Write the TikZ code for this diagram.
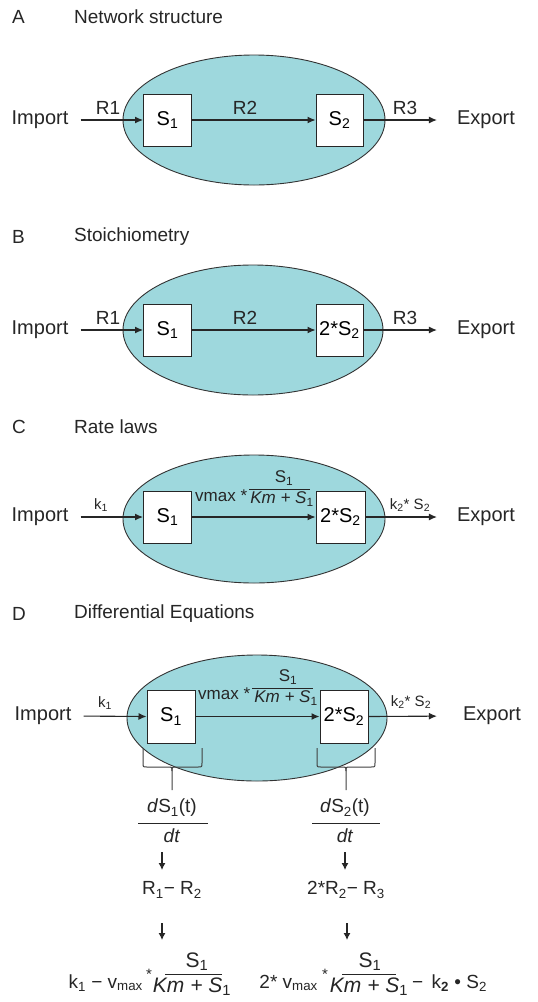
\documentclass[tikz,border=0pt]{standalone}
\usepackage{fontspec}
\setmainfont{Liberation Sans}
\usetikzlibrary{arrows.meta,shapes.geometric}
\definecolor{cellc}{RGB}{158,216,221}
\newcommand\sbs[1]{\textsubscript{#1}}
\begin{document}
\begin{tikzpicture}[x=1pt,y=-1pt,
  ttl/.style={inner sep=0pt,font=\fontsize{19}{22}\selectfont,text=black!85},
  txt/.style={inner sep=0pt,font=\fontsize{20}{24}\selectfont,text=black!85},
  lbl/.style={inner sep=0pt,font=\fontsize{19}{22}\selectfont,text=black!85},
  small/.style={inner sep=0pt,font=\fontsize{15}{18}\selectfont,text=black!85},
  frt/.style={inner sep=0pt,font=\fontsize{17}{20}\selectfont,text=black!85},
  big/.style={inner sep=0pt,font=\fontsize{21}{25}\selectfont,text=black!85},
  cell/.style={ellipse,draw=black!80,line width=0.9pt,fill=cellc,inner sep=0pt},
  sbox/.style={rectangle,draw=black!85,line width=1pt,fill=white,inner sep=0pt,
    minimum width=48pt,minimum height=52pt,font=\fontsize{20}{24}\selectfont},
  arr/.style={draw=black!85,line width=1.1pt,-{Latex[length=8pt,width=7pt]}},
  varr/.style={draw=black!85,line width=1.1pt,-{Latex[length=7pt,width=7pt]}},
  frl/.style={draw=black!85,line width=0.9pt},
  brc/.style={draw=black!75,line width=1pt}]
\useasboundingbox[fill=white] (0,0) rectangle (538,1002);

% ---------- A ----------
\node[ttl,anchor=west] (tA) at (12,17) {A};
\node[ttl,anchor=west] (tA2) at (74,17) {Network structure};
\node[cell,minimum width=262pt,minimum height=130pt] (eA) at (254,120) {};
\node[sbox] (a1) at (167.5,120) {S\sbs{1}};
\node[sbox,minimum width=47pt] (a2) at (339.5,120) {S\sbs{2}};
\node[txt] (aI) at (40,120) {Import};
\node[txt] (aE) at (486,120) {Export};
\draw[arr,shorten <=12pt] (aI.east) -- (a1.west);
\draw[arr] (a1.east) -- (a2.west);
\draw[arr,shorten >=20pt] (a2.east) -- (aE.west);
\node[lbl] (aR1) at (108,108) {R1};
\node[lbl] (aR2) at (245,108) {R2};
\node[lbl] (aR3) at (405,108) {R3};

% ---------- B ----------
\node[ttl,anchor=west] (tB) at (12,237) {B};
\node[ttl,anchor=west] (tB2) at (74,237) {Stoichiometry};
\node[cell,minimum width=260pt,minimum height=130pt] (eB) at (253,330) {};
\node[sbox] (b1) at (167.5,330) {S\sbs{1}};
\node[sbox,minimum width=47pt] (b2) at (339.5,330) {2*S\sbs{2}};
\node[txt] (bI) at (40,330) {Import};
\node[txt] (bE) at (486,330) {Export};
\draw[arr,shorten <=12pt] (bI.east) -- (b1.west);
\draw[arr] (b1.east) -- (b2.west);
\draw[arr,shorten >=20pt] (b2.east) -- (bE.west);
\node[lbl] (bR1) at (108,318) {R1};
\node[lbl] (bR2) at (245,318) {R2};
\node[lbl] (bR3) at (405,318) {R3};

% ---------- C ----------
\node[ttl,anchor=west] (tC) at (12,427) {C};
\node[ttl,anchor=west] (tC2) at (74,427) {Rate laws};
\node[cell,minimum width=262pt,minimum height=128pt] (eC) at (254,519) {};
\node[sbox] (c1) at (167.5,517) {S\sbs{1}};
\node[sbox,minimum width=49pt] (c2) at (340.5,517) {2*S\sbs{2}};
\node[txt] (cI) at (40,517) {Import};
\node[txt] (cE) at (486,517) {Export};
\draw[arr,shorten <=12pt] (cI.east) -- (c1.west);
\draw[arr] (c1.east) -- (c2.west);
\draw[arr,shorten >=20pt] (c2.east) -- (cE.west);
\node[small] (ck1) at (101,505) {k\sbs{1}};
\node[frt,anchor=west] (cv) at (195,496) {vmax *};
\node[frt] (cN) at (284,478) {S\sbs{1}};
\draw[frl] (249,489) -- (310,489);
\node[frt] (cD) at (282,499) {\textit{Km + S}\sbs{1}};
\node[small] (ck2) at (410,505) {k\sbs{2}* S\sbs{2}};

% ---------- D ----------
\node[ttl,anchor=west] (tD) at (12,614) {D};
\node[ttl,anchor=west] (tD2) at (74,614) {Differential Equations};
\node[cell,minimum width=260pt,minimum height=126pt] (eD) at (257,718) {};
\node[sbox,minimum height=53pt] (d1) at (171,716.5) {S\sbs{1}};
\node[sbox,minimum height=53pt] (d2) at (344,716.5) {2*S\sbs{2}};
\node[txt] (dI) at (43,716) {Import};
\node[txt] (dE) at (492,716) {Export};
\draw[arr,shorten <=12pt] (dI.east) -- (d1.west);
\draw[arr] (d1.east) -- (d2.west);
\draw[arr,shorten >=26pt] (d2.east) -- (dE.west);
\node[small] (dk1) at (105,703) {k\sbs{1}};
\node[frt,anchor=west] (dv) at (198,694) {vmax *};
\node[frt] (dN) at (288,677) {S\sbs{1}};
\draw[frl] (252,688) -- (313,688);
\node[frt] (dD) at (286,698) {\textit{Km + S}\sbs{1}};
\node[small] (dk2) at (411,702) {k\sbs{2}* S\sbs{2}};

% braces
\draw[brc] (143,748) -- (143,763) .. controls (143,767) .. (147,767) -- (168,767)
  .. controls (172,767) .. (172,771) -- (172,790);
\draw[brc] (202,748) -- (202,763) .. controls (202,767) .. (198,767) -- (176,767)
  .. controls (172,767) .. (172,771);
\draw[brc] (317,748) -- (317,763) .. controls (317,767) .. (321,767) -- (342,767)
  .. controls (346,767) .. (346,771) -- (346,790);
\draw[brc] (375,748) -- (375,763) .. controls (375,767) .. (371,767) -- (350,767)
  .. controls (346,767) .. (346,771);

% derivative fractions
\node[lbl] (n1) at (172,808) {\textit{d}S\sbs{1}(t)};
\draw[frl] (138,823) -- (208,823);
\node[lbl] (m1) at (172,836) {\textit{dt}};
\node[lbl] (n2) at (345,808) {\textit{d}S\sbs{2}(t)};
\draw[frl] (312,823) -- (380,823);
\node[lbl] (m2) at (345,836) {\textit{dt}};

\node[lbl] (r1) at (172,890) {R\sbs{1}− R\sbs{2}};
\node[lbl] (r2) at (346,890) {2*R\sbs{2}− R\sbs{3}};
\coordinate (p1) at (162,852); \coordinate (q1) at (162,870);
\coordinate (p2) at (345,852); \coordinate (q2) at (345,870);
\coordinate (p3) at (162,923); \coordinate (q3) at (162,940);
\coordinate (p4) at (347,923); \coordinate (q4) at (347,940);
\draw[varr] (p1) -- (q1);
\draw[varr] (p2) -- (q2);
\draw[varr] (p3) -- (q3);
\draw[varr] (p4) -- (q4);

% bottom formulas
\node[lbl,anchor=east] (f1a) at (143,983) {k\sbs{1} − v\sbs{max}};
\node[small] (f1s) at (149,974) {*};
\node[big] (f1n) at (197,962) {S\sbs{1}};
\draw[frl] (165,974) -- (222,974);
\node[big] (f1d) at (192,987) {\textit{Km + S}\sbs{1}};
\node[lbl,anchor=east] (f2a) at (318,983) {2* v\sbs{max}};
\node[small] (f2s) at (325,974) {*};
\node[big] (f2n) at (370,962) {S\sbs{1}};
\draw[frl] (342,974) -- (396,974);
\node[big] (f2d) at (369,987) {\textit{Km + S}\sbs{1}};
\node[lbl,anchor=west] (f2b) at (412,983) {− \,k\sbs{\textbf{2}} • S\sbs{2}};
\end{tikzpicture}
\end{document}
